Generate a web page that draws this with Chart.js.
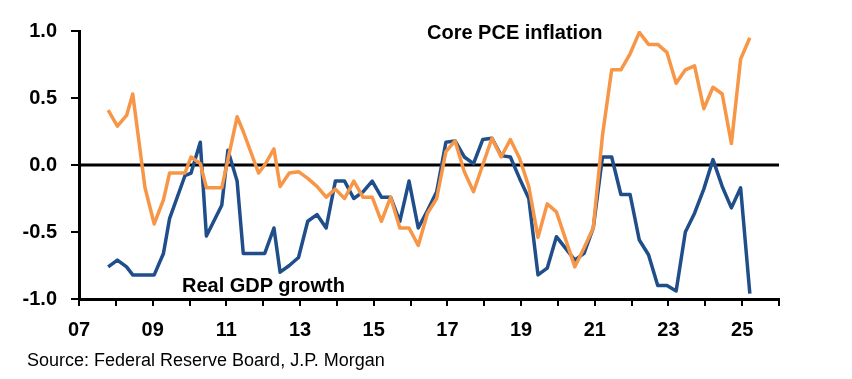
<!DOCTYPE html>
<html>
<head>
<meta charset="utf-8">
<script src="https://cdn.jsdelivr.net/npm/chart.js@4.4.1/dist/chart.umd.min.js"></script>
<style>
  html, body { margin: 0; padding: 0; background: #fff; }
  #wrap { position: relative; width: 852px; height: 379px; }
  .lbl { position: absolute; font-family: "Liberation Sans", Arial, sans-serif; white-space: nowrap; line-height: 1; color: #000; }
  .bold { font-weight: bold; font-size: 20px; }
  #pceLbl { left: 427px; top: 22px; }
  #gdpLbl { left: 182px; top: 275px; }
  #source { left: 27px; top: 351px; font-size: 18px; }
</style>
</head>
<body>
<div id="wrap">
  <canvas id="chart" width="852" height="379"></canvas>
  <div class="lbl bold" id="pceLbl">Core PCE inflation</div>
  <div class="lbl bold" id="gdpLbl">Real GDP growth</div>
  <div class="lbl" id="source">Source: Federal Reserve Board, J.P. Morgan</div>
</div>
<script>
// --- Data (SEP rounds, year-month) ---
const sepDates = [
  '2007-10',
  '2008-01', '2008-04', '2008-06', '2008-10',
  '2009-01', '2009-04', '2009-06', '2009-11',
  '2010-01', '2010-04', '2010-06', '2010-11',
  '2011-01', '2011-04', '2011-06', '2011-11',
  '2012-01', '2012-04', '2012-06', '2012-09', '2012-12',
  '2013-03', '2013-06', '2013-09', '2013-12',
  '2014-03', '2014-06', '2014-09', '2014-12',
  '2015-03', '2015-06', '2015-09', '2015-12',
  '2016-03', '2016-06', '2016-09', '2016-12',
  '2017-03', '2017-06', '2017-09', '2017-12',
  '2018-03', '2018-06', '2018-09', '2018-12',
  '2019-03', '2019-06', '2019-09', '2019-12',
  '2020-06', '2020-09', '2020-12',
  '2021-03', '2021-06', '2021-09', '2021-12',
  '2022-03', '2022-06', '2022-09', '2022-12',
  '2023-03', '2023-06', '2023-09', '2023-12',
  '2024-03', '2024-06', '2024-09', '2024-12',
  '2025-03'
];

const gdpGrowth = [
  -0.76,
  -0.71, -0.76, -0.82, -0.82,
  -0.82, -0.66, -0.40, -0.08,
  -0.06, 0.17, -0.53, -0.30,
  0.11, -0.12, -0.66, -0.66,
  -0.66, -0.47, -0.80, -0.75, -0.69,
  -0.42, -0.37, -0.47, -0.12,
  -0.12, -0.25, -0.20, -0.12,
  -0.24, -0.24, -0.42, -0.12,
  -0.47, -0.34, -0.20, 0.17,
  0.18, 0.06, 0.01, 0.19,
  0.20, 0.07, 0.06, -0.10,
  -0.25, -0.82, -0.77, -0.535,
  -0.71, -0.66, -0.47,
  0.06, 0.06, -0.22, -0.22,
  -0.56, -0.67, -0.90, -0.90,
  -0.94, -0.50, -0.36, -0.18,
  0.04, -0.16, -0.32, -0.17,
  -0.96
];

const corePce = [
  0.41,
  0.29, 0.37, 0.53, -0.17,
  -0.44, -0.26, -0.06, -0.06,
  0.06, 0.01, -0.17, -0.17,
  0.04, 0.36, 0.25, -0.06,
  0.00, 0.12, -0.16, -0.06, -0.05,
  -0.10, -0.16, -0.24, -0.18,
  -0.25, -0.12, -0.24, -0.24,
  -0.42, -0.24, -0.47, -0.47,
  -0.60, -0.36, -0.25, 0.10,
  0.18, -0.05, -0.20, 0.00,
  0.20, 0.06, 0.19, 0.05,
  -0.16, -0.54, -0.29, -0.35,
  -0.76, -0.62, -0.47,
  0.22, 0.71, 0.71, 0.83,
  0.99, 0.90, 0.90, 0.84,
  0.61, 0.71, 0.74, 0.42,
  0.58, 0.53, 0.16, 0.79,
  0.95
];

const xTickYears = [2007, 2008, 2009, 2010, 2011, 2012, 2013, 2014, 2015, 2016,
  2017, 2018, 2019, 2020, 2021, 2022, 2023, 2024, 2025, 2026];
const xLabelYears = [2007, 2009, 2011, 2013, 2015, 2017, 2019, 2021, 2023, 2025];
const yTicks = [-1.0, -0.5, 0.0, 0.5, 1.0];

// --- Helpers ---
const toYear = s => {
  const [y, m] = s.split('-').map(Number);
  return y + (m - 0.5) / 12;
};
const toPoints = vals => vals.map((v, i) => ({ x: toYear(sepDates[i]), y: v }));

const tickFont = { family: '"Liberation Sans", Arial, sans-serif', size: 20, weight: 'bold' };

new Chart(document.getElementById('chart'), {
  type: 'line',
  data: {
    datasets: [
      { data: toPoints(corePce), borderColor: '#F79646', borderWidth: 3.5 },
      { data: toPoints(gdpGrowth), borderColor: '#1F4E8A', borderWidth: 3.5 },
      { data: [{ x: xTickYears[0], y: 0 }, { x: xTickYears[xTickYears.length - 1], y: 0 }],
        borderColor: '#000', borderWidth: 3 }
    ]
  },
  options: {
    responsive: false,
    animation: false,
    devicePixelRatio: 1,
    layout: { padding: { top: 31, right: 73, left: 0, bottom: 0 } },
    elements: { point: { radius: 0 }, line: { tension: 0, borderJoinStyle: 'round' } },
    plugins: { legend: { display: false }, tooltip: { enabled: false } },
    scales: {
      x: {
        type: 'linear',
        min: xTickYears[0],
        max: xTickYears[xTickYears.length - 1],
        afterBuildTicks: s => { s.ticks = xTickYears.map(v => ({ value: v })); },
        afterFit: s => { s.height = 80; },
        ticks: {
          autoSkip: false, maxRotation: 0, padding: 12, color: '#000', font: tickFont,
          callback: v => xLabelYears.includes(v) ? String(v).slice(2) : ''
        },
        grid: { drawOnChartArea: false, drawTicks: true, tickLength: 7, color: '#000', lineWidth: 2 },
        border: { color: '#000', width: 3 }
      },
      y: {
        min: yTicks[0],
        max: yTicks[yTicks.length - 1],
        afterBuildTicks: s => { s.ticks = yTicks.map(v => ({ value: v })); },
        afterFit: s => { s.width = 79; },
        ticks: { padding: 14, color: '#000', font: tickFont, callback: v => v.toFixed(1) },
        grid: { drawOnChartArea: false, drawTicks: true, tickLength: 8, color: '#000', lineWidth: 2 },
        border: { color: '#000', width: 3 }
      }
    }
  }
});
</script>
</body>
</html>
